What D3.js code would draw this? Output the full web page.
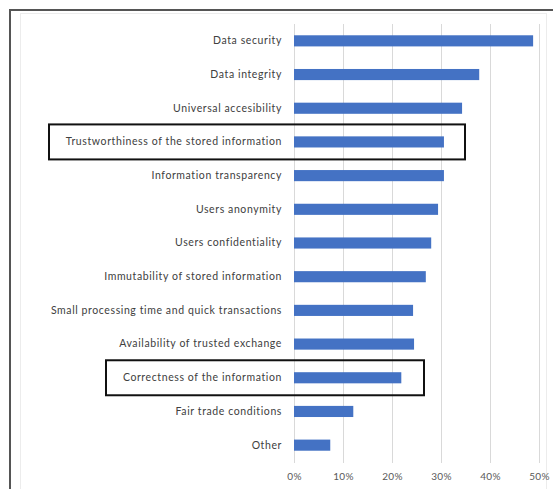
<!DOCTYPE html>
<html>
<head>
<meta charset="utf-8">
<script src="https://cdn.jsdelivr.net/npm/d3@7"></script>
<style>
  html, body { margin: 0; padding: 0; background: #ffffff; }
  svg { display: block; }
  text { font-family: Lato, "Open Sans", "Liberation Sans", sans-serif; fill: #595959; }
</style>
</head>
<body>
<svg id="chart" width="553" height="489"></svg>
<script>
// Requirements ranked by share of respondents
const categories = [
  "Data security",
  "Data integrity",
  "Universal accesibility",
  "Trustworthiness of the stored information",
  "Information transparency",
  "Users anonymity",
  "Users confidentiality",
  "Immutability of stored information",
  "Small processing time and quick transactions",
  "Availability of trusted exchange",
  "Correctness of the information",
  "Fair trade conditions",
  "Other"
];
const shares = [0.488, 0.378, 0.343, 0.306, 0.306, 0.294, 0.280, 0.269, 0.243, 0.245, 0.219, 0.121, 0.074];
const tickValues = [0, 0.1, 0.2, 0.3, 0.4, 0.5];
const highlighted = ["Trustworthiness of the stored information", "Correctness of the information"];

const svg = d3.select("#chart");

// Outer frame (top and left edges) and faint chart-area border
svg.append("rect")
  .attr("x", 20.5).attr("y", 13.5).attr("width", 526).attr("height", 500)
  .attr("fill", "none").attr("stroke", "#ececec").attr("stroke-width", 1);
svg.append("path")
  .attr("d", "M10,489 L10,10 L553,10")
  .attr("fill", "none").attr("stroke", "#555555").attr("stroke-width", 2);

const x = d3.scaleLinear().domain([0, 0.5]).range([294, 539]);
const y = d3.scaleBand().domain(categories).range([24, 462]).paddingInner(0.67).paddingOuter(0.335);

// Vertical gridlines
svg.append("g")
  .selectAll("line")
  .data(tickValues)
  .join("line")
  .attr("x1", d => Math.round(x(d)) + 0.5)
  .attr("x2", d => Math.round(x(d)) + 0.5)
  .attr("y1", 24).attr("y2", 463)
  .attr("stroke", "#d9d9d9").attr("stroke-width", 1);

// X axis tick labels
const xAxis = d3.axisBottom(x).tickValues(tickValues).tickFormat(d3.format(".0%")).tickSize(0).tickPadding(0);
const gx = svg.append("g").attr("transform", "translate(0,473)").call(xAxis);
gx.select(".domain").remove();
gx.selectAll("text").attr("font-size", 10).attr("dy", "0.71em")
  .style("letter-spacing", "0.3px").style("fill", "#595959")
  .style("font-family", "Lato, 'Open Sans', sans-serif");

// Y axis category labels
const yAxis = d3.axisLeft(y).tickSize(0).tickPadding(0);
const gy = svg.append("g").attr("transform", "translate(282,0)").call(yAxis);
gy.select(".domain").remove();
gy.selectAll("text").attr("font-size", 10.5)
  .style("letter-spacing", "0.6px").style("fill", "#404040")
  .style("font-family", "Lato, 'Open Sans', sans-serif");

// Bars
svg.append("g")
  .selectAll("rect")
  .data(categories)
  .join("rect")
  .attr("x", x(0))
  .attr("y", d => y(d))
  .attr("width", (d, i) => x(shares[i]) - x(0))
  .attr("height", y.bandwidth())
  .attr("fill", "#4472c4");

// Boxes around highlighted requirements
const boxes = [
  { name: highlighted[0], left: 49, right: 465 },
  { name: highlighted[1], left: 106, right: 424 }
];
svg.append("g")
  .selectAll("rect")
  .data(boxes)
  .join("rect")
  .attr("x", d => d.left)
  .attr("y", d => y(d.name) + y.bandwidth() / 2 - 17.5)
  .attr("width", d => d.right - d.left)
  .attr("height", 35)
  .attr("fill", "none")
  .attr("stroke", "#111111")
  .attr("stroke-width", 2);
</script>
</body>
</html>
